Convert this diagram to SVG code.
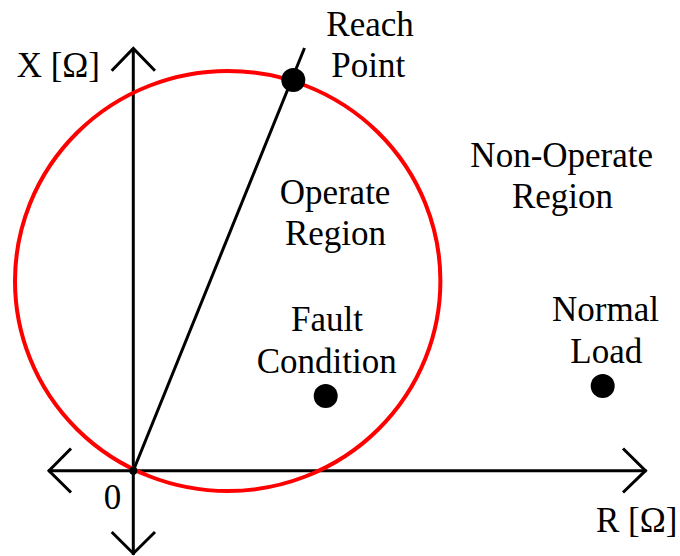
<svg xmlns="http://www.w3.org/2000/svg" width="680" height="556" viewBox="0 0 680 556">
<style>
.ax{stroke:#000;stroke-width:3;fill:none;stroke-linecap:butt}
.hd{stroke:#000;stroke-width:3;fill:none;stroke-linejoin:miter;stroke-linecap:butt}
.dot{fill:#000}
</style>
<rect width="680" height="556" fill="#fff"/>
<g id="axes">
<line class="ax" x1="133.3" y1="48" x2="133.3" y2="555"/>
<line class="ax" x1="48" y1="470.7" x2="646.5" y2="470.7"/>
<polyline class="hd" points="111.7,70.7 133.3,48.5 155,70.7"/>
<polyline class="hd" points="111.7,532 133.3,553.5 155,532"/>
<polyline class="hd" points="71,448.5 49,470.7 71,492.5"/>
<polyline class="hd" points="623,448.5 645.5,470.7 623,492.5"/>
</g>
<g id="mho-circle">
<ellipse cx="227.7" cy="281" rx="212.7" ry="210" fill="none" stroke="#ff0000" stroke-width="4"/>
</g>
<g id="connectors">
<line class="ax" x1="133.3" y1="470.7" x2="304.5" y2="48"/>
</g>
<g id="origin"><circle class="dot" cx="133.3" cy="470.7" r="4"/></g>
<g id="reach-point"><circle class="dot" cx="293.3" cy="80" r="12"/></g>
<g id="fault-condition"><circle class="dot" cx="325.7" cy="396" r="12"/></g>
<g id="normal-load"><circle class="dot" cx="602.7" cy="386" r="12"/></g>
<g id="labels" font-family="Liberation Serif" font-size="30" text-anchor="middle" fill="#000">
<text transform="translate(58.3,77.3) scale(1.1667)">X [Ω]</text>
<text transform="translate(370,35.5) scale(1.1667)">Reach</text>
<text transform="translate(368.3,76.5) scale(1.1667)">Point</text>
<text transform="translate(335,204) scale(1.1667)">Operate</text>
<text transform="translate(335.5,245) scale(1.1667)">Region</text>
<text transform="translate(561.7,166.7) scale(1.1667)">Non-Operate</text>
<text transform="translate(562.5,208.3) scale(1.1667)">Region</text>
<text transform="translate(327,330.5) scale(1.1667)">Fault</text>
<text transform="translate(326.7,373.3) scale(1.1667)">Condition</text>
<text transform="translate(605.5,320.7) scale(1.1667)">Normal</text>
<text transform="translate(606.3,362.7) scale(1.1667)">Load</text>
<text transform="translate(112.5,509.3) scale(1.1667)">0</text>
<text transform="translate(636.7,531.7) scale(1.1667)">R [Ω]</text>
</g>
</svg>
